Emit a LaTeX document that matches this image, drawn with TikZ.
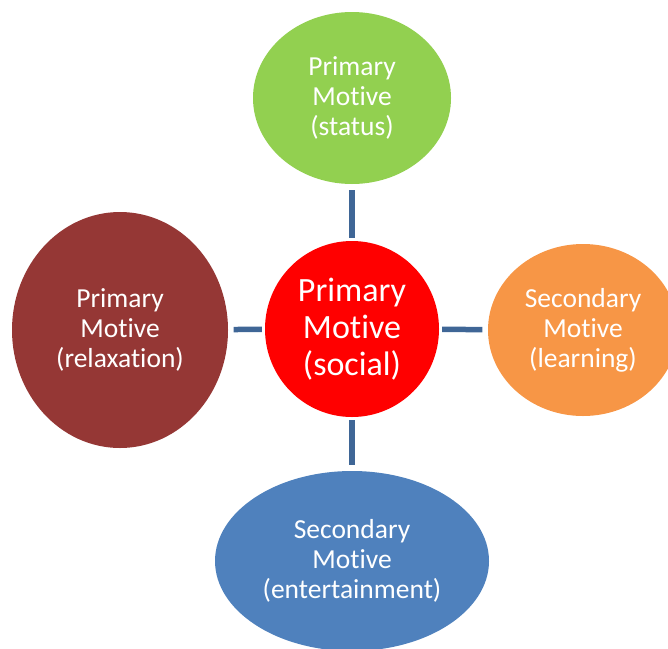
\documentclass[tikz,border=0pt]{standalone}
\usepackage{fontspec}
\setmainfont{Carlito}[Ligatures=NoCommon]
\usetikzlibrary{shapes.geometric}

\definecolor{motivered}{HTML}{FF0000}
\definecolor{motivegreen}{HTML}{92D050}
\definecolor{motivebrown}{HTML}{953735}
\definecolor{motiveorange}{HTML}{F79646}
\definecolor{motiveblue}{HTML}{4F81BD}
\definecolor{linkblue}{HTML}{3F6696}

\tikzset{
	motive/.style = {ellipse, inner sep=0pt, text=white, align=center,
		font=\fontsize{27.5}{30}\selectfont},
	link/.style = {draw=linkblue, line width=5.5pt,
		shorten <=3pt, shorten >=5.5pt},
}

\begin{document}
\begin{tikzpicture}[x=1pt, y=-1pt]
		\useasboundingbox (0,0) rectangle (668,648);
		% 中心の円
		\node [motive, fill=motivered, minimum width=174pt, minimum height=176pt,
			font=\fontsize{34}{37}\selectfont] (social) at (352,329)
			{Primary\\Motive\\(social)};
		% 周りの楕円
		\node [motive, fill=motivegreen, minimum width=198pt, minimum height=172pt]
			(status) at (352,98) {Primary\\Motive\\(status)};
		\node [motive, fill=motivebrown, minimum width=216pt, minimum height=236pt]
			(relaxation) at (120,330) {Primary\\Motive\\(relaxation)};
		\node [motive, fill=motiveorange, minimum width=190pt, minimum height=172pt]
			(learning) at (583,330) {Secondary\\Motive\\(learning)};
		\node [motive, fill=motiveblue, minimum width=274pt, minimum height=180pt]
			(entertainment) at (352,561) {Secondary\\Motive\\(entertainment)};
		% 線
		\draw [link] (social) -- (status);
		\draw [link] (social) -- (relaxation);
		\draw [link] (social) -- (learning);
		\draw [link] (social) -- (entertainment);
	\end{tikzpicture}
\end{document}
